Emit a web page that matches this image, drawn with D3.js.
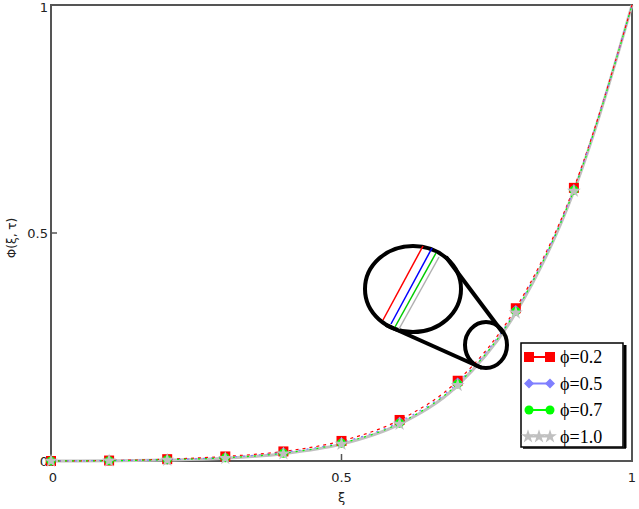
<!DOCTYPE html>
<html><head><meta charset="utf-8">
<script src="https://cdn.jsdelivr.net/npm/d3@7"></script>
<style>body{margin:0;background:#fff}svg{display:block}</style>
</head><body>
<svg id="c" width="639" height="509"></svg>
<script>
const xi = [0,0.1,0.2,0.3,0.4,0.5,0.6,0.7,0.8,0.9,1.0];
const phi02 = [0,0.001,0.004,0.010,0.021,0.044,0.090,0.176,0.335,0.599,1];
const phi05 = [0,0.001,0.003,0.008,0.019,0.041,0.086,0.172,0.331,0.596,1];
const phi07 = [0,0.0005,0.003,0.007,0.017,0.039,0.083,0.169,0.328,0.594,1];
const phi10 = [0,0.0004,0.002,0.006,0.016,0.037,0.081,0.166,0.325,0.592,1];
const seriesNames = ["ϕ=0.2","ϕ=0.5","ϕ=0.7","ϕ=1.0"];
const xTicks = [0,0.5,1];
const yTicks = [0,0.5,1];

const svg = d3.select("#c");
const x = d3.scaleLinear().domain([0,1]).range([51,632]);
const y = d3.scaleLinear().domain([0,1]).range([461,5]);

const styles = [
  {color:"#ff0000", dash:"3,4", width:1.2, marker:"square"},
  {color:"#7f7fff", dash:"2,6", width:1.2, marker:"diamond"},
  {color:"#00ff00", dash:"2,5", width:1.2, marker:"circle"},
  {color:"#c0c0c0", dash:null, width:3, marker:"star"}
];
const data = [phi02,phi05,phi07,phi10];

const fr = svg.append("g");
fr.append("rect").attr("x",x(0)).attr("y",y(1)).attr("width",x(1)-x(0)).attr("height",y(0)-y(1))
  .attr("fill","none").attr("stroke","#555").attr("stroke-width",2);

xTicks.forEach(t=>{
  if(t>0&&t<1) fr.append("line").attr("x1",x(t)).attr("x2",x(t)).attr("y1",y(0)).attr("y2",y(0)-7).attr("stroke","#555").attr("stroke-width",1.5);
  svg.append("text").attr("x",x(t)+(t===0?2:0)).attr("y",482).attr("text-anchor","middle")
    .attr("font-family","DejaVu Sans").attr("font-size",13).attr("fill","#222").text(String(t));
});
yTicks.forEach(t=>{
  if(t>0&&t<1) fr.append("line").attr("x1",x(0)).attr("x2",x(0)+6).attr("y1",y(t)).attr("y2",y(t)).attr("stroke","#555").attr("stroke-width",1.5);
  svg.append("text").attr("x",48).attr("y",y(t)+(t===1?7:5)).attr("text-anchor","end")
    .attr("font-family","DejaVu Sans").attr("font-size",13).attr("fill","#222").text(String(t));
});

svg.append("text").attr("x",x(0.5)).attr("y",502).attr("text-anchor","middle")
  .attr("font-family","DejaVu Sans").attr("font-size",13).attr("fill","#222").text("ξ");
svg.append("text").attr("transform","translate(16,238) rotate(-90)").attr("text-anchor","middle")
  .attr("font-family","DejaVu Sans").attr("font-size",12).attr("fill","#222").text("Φ(ξ, τ)");

const line = d3.line().x((d,i)=>x(xi[i])).y(d=>y(d)).curve(d3.curveMonotoneX);

function drawMarker(g, type, cx, cy, color){
  if(type==="square") g.append("rect").attr("x",cx-5).attr("y",cy-5).attr("width",10).attr("height",10).attr("fill",color);
  else if(type==="diamond") g.append("path").attr("d",`M${cx},${cy-5}L${cx+5},${cy}L${cx},${cy+5}L${cx-5},${cy}Z`).attr("fill",color);
  else if(type==="circle") g.append("circle").attr("cx",cx).attr("cy",cy).attr("r",4.5).attr("fill",color);
  else if(type==="star") g.append("path").attr("d",d3.symbol(d3.symbolStar,60)()).attr("transform",`translate(${cx},${cy})`).attr("fill",color);
}

[3,0,1,2].forEach(k=>{
  svg.append("path").attr("d",line(data[k])).attr("fill","none").attr("stroke",styles[k].color)
    .attr("stroke-width",styles[k].width).attr("stroke-dasharray",styles[k].dash);
});
[0,1,2,3].forEach(k=>{
  const g = svg.append("g");
  data[k].forEach((v,i)=>{ if(i<10) drawMarker(g, styles[k].marker, x(xi[i]), y(v), styles[k].color); });
});

const mag = svg.append("g").attr("fill","none").attr("stroke","#000").attr("stroke-width",4);
const inner = [["#ff0000",383,320,423,246],["#0000ff",391,324,432,248],["#00cc00",395,327,436,253],["#b0b0b0",399,329,439,257]];
inner.forEach(l=>svg.append("line").attr("x1",l[1]).attr("y1",l[2]).attr("x2",l[3]).attr("y2",l[4]).attr("stroke",l[0]).attr("stroke-width",1.5));
mag.append("ellipse").attr("cx",413).attr("cy",289).attr("rx",48).attr("ry",43);
mag.append("ellipse").attr("cx",486).attr("cy",345).attr("rx",21).attr("ry",23);
mag.append("line").attr("x1",446).attr("y1",257).attr("x2",503).attr("y2",333);
mag.append("line").attr("x1",386).attr("y1",325).attr("x2",482).attr("y2",368);

const lg = svg.append("g");
lg.append("rect").attr("x",523).attr("y",344).attr("width",101).attr("height",103).attr("fill","#fff").attr("stroke","none");
lg.append("line").attr("x1",625).attr("y1",345).attr("x2",625).attr("y2",448).attr("stroke","#000").attr("stroke-width",3);
lg.append("line").attr("x1",523).attr("y1",448).attr("x2",626).attr("y2",448).attr("stroke","#000").attr("stroke-width",1.5);
lg.append("rect").attr("x",521).attr("y",343).attr("width",102).attr("height",104).attr("fill","none").attr("stroke","#000").attr("stroke-width",1.5);
seriesNames.forEach((n,k)=>{
  const yy = 357 + k*26.5;
  lg.append("line").attr("x1",526).attr("x2",553).attr("y1",yy).attr("y2",yy).attr("stroke",styles[k].color).attr("stroke-width",2);
  const pts = k===3 ? [528,539,550] : [529,550];
  pts.forEach(px=>drawMarker(lg, styles[k].marker, px, yy, styles[k].color));
  lg.append("text").attr("x",560).attr("y",yy+6).attr("font-family","Liberation Serif").attr("font-size",18).attr("fill","#000").text(n);
});
</script>
</body></html>
